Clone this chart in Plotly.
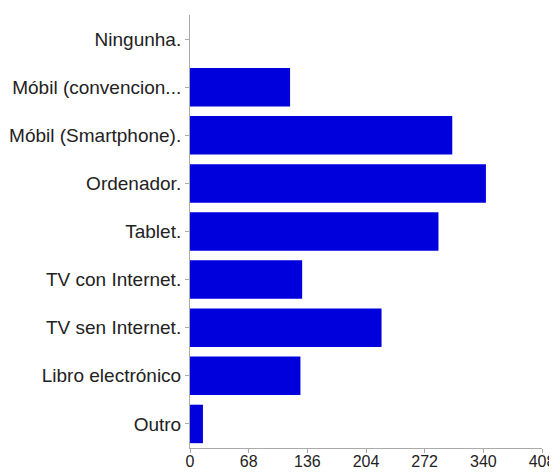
import plotly.graph_objects as go

categories = ["Ningunha.", "Móbil (convencion...", "Móbil (Smartphone).", "Ordenador.", "Tablet.",
              "TV con Internet.", "TV sen Internet.", "Libro electrónico", "Outro"]
values = [0, 116, 304, 343, 288, 130, 222, 128, 15]
x_ticks = [0, 68, 136, 204, 272, 340, 408]

# the page shows the figure with an 8px body margin; margins compensate for it
fig = go.Figure(go.Bar(
    x=values, y=categories, orientation="h",
    marker=dict(color="#0000dc", line=dict(width=0)),
))
fig.update_layout(
    width=549, height=465,
    margin=dict(l=182, r=15, t=7, b=25),
    plot_bgcolor="white", paper_bgcolor="white",
    bargap=0.2, showlegend=False,
    font=dict(family="Liberation Sans, Arial, sans-serif", size=19, color="#222222"),
)
fig.update_xaxes(range=[0, 408], tickvals=x_ticks, showgrid=False, zeroline=False,
                 showline=True, linecolor="#aaaaaa", ticks="outside", ticklen=4,
                 tickcolor="#aaaaaa", automargin=False, tickfont=dict(size=16),
                 ticklabelstandoff=-5, ticklabeloverflow="allow")
fig.update_yaxes(categoryorder="array", categoryarray=categories[::-1], showgrid=False,
                 showline=True, linecolor="#aaaaaa", ticks="outside", ticklen=4,
                 tickcolor="#aaaaaa", automargin=False)
fig.write_html("out.html")
